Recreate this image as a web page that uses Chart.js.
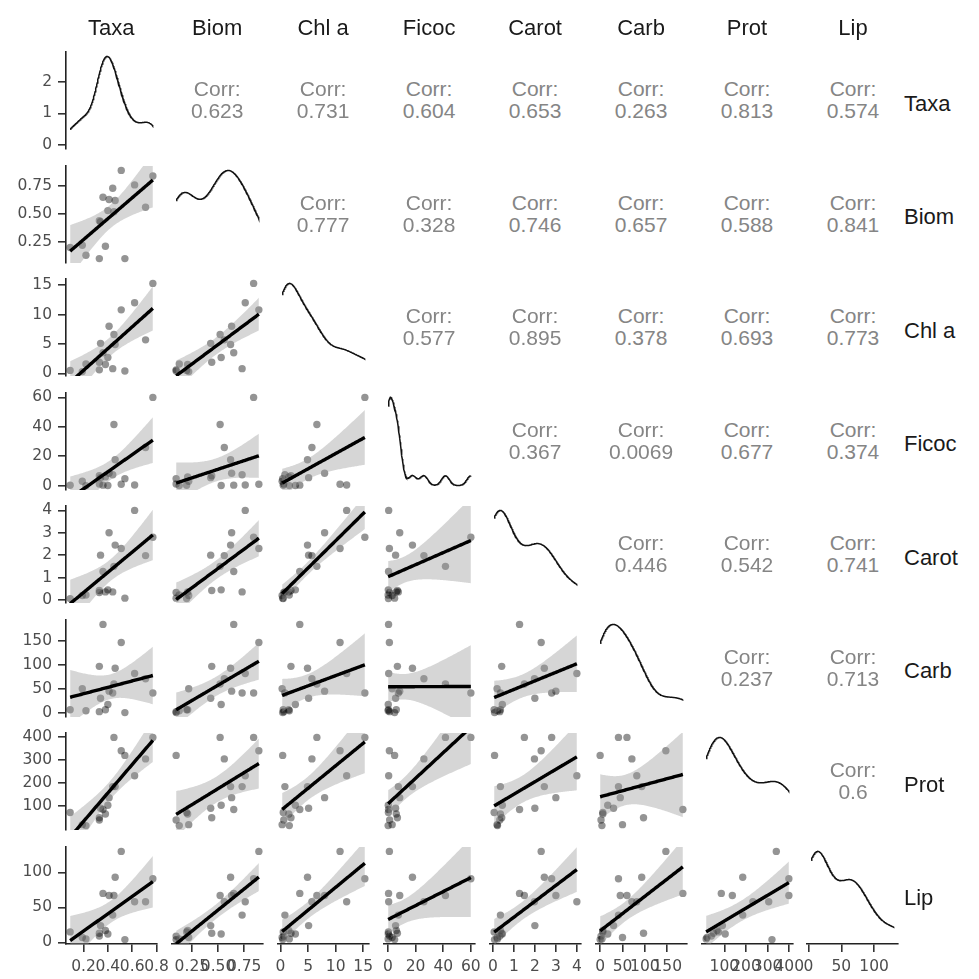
<!DOCTYPE html>
<html>
<head>
<meta charset="utf-8">
<script src="https://cdn.jsdelivr.net/npm/chart.js@4.4.1/dist/chart.umd.min.js"></script>
<style>
  html, body { margin: 0; padding: 0; background: #ffffff; }
  #wrap { position: relative; width: 979px; height: 979px; overflow: hidden;
          font-family: "Liberation Sans", Arial, sans-serif; }
  #wrap canvas { position: absolute; }
  .lab { position: absolute; white-space: nowrap; line-height: 1; }
</style>
</head>
<body>
<div id="wrap"></div>
<script>
// Variable names, in matrix order
const variables = ["Taxa", "Biom", "Chl a", "Ficoc", "Carot", "Carb", "Prot", "Lip"];

// One value per sample for every variable (18 samples)
const taxa  = [0.77, 0.71, 0.62, 0.54, 0.51, 0.46, 0.45, 0.44, 0.41, 0.40, 0.38, 0.36, 0.34, 0.33, 0.33, 0.22, 0.19, 0.09];
const biom  = [0.84, 0.56, 0.76, 0.10, 0.89, 0.62, 0.52, 0.73, 0.63, 0.53, 0.21, 0.65, 0.43, 0.10, 0.44, 0.13, 0.22, 0.20];
const chla  = [15.3, 5.7, 12.0, 0.4, 10.8, 4.9, 6.6, 0.8, 8.0, 2.7, 1.5, 3.5, 5.1, 0.6, 1.9, 1.6, 0.3, 0.5];
const ficoc = [60, 26, 0.5, 4.8, 1.0, 17.7, 41.6, 7.5, 8.5, 0.2, 6.0, 0.4, 5.5, 1.2, 6.8, 0.1, 3.0, 0.3];
const carot = [2.8, 1.98, 4.0, 0.08, 2.3, 2.45, 1.5, 0.36, 3.0, 0.45, 0.36, 1.27, 2.0, 0.33, 0.42, 0.22, 0.2, 0.06];
const carb  = [41, 71, 82, 0, 147, 93, 60, 41, 45, 17, 6, 185, 30, 2, 97, 4, 50, 6];
const prot  = [398, 305, 232, 320, 340, 185, 398, 185, 137, 104, 66, 86, 91, 40, 50, 16, 20, 73];
const lip   = [91, 58, 58, 4, 130, 93, 67, 39, 67, 12, 17, 70, 24, 9, 13, 5, 7, 15];

// Axis tick values and their printed labels
const taxaTicks  = [0.2, 0.4, 0.6, 0.8];       const taxaTickLabels  = ["0.2", "0.4", "0.6", "0.8"];
const biomTicks  = [0.25, 0.5, 0.75];          const biomTickLabels  = ["0.25", "0.50", "0.75"];
const chlaTicks  = [0, 5, 10, 15];             const chlaTickLabels  = ["0", "5", "10", "15"];
const ficocTicks = [0, 20, 40, 60];            const ficocTickLabels = ["0", "20", "40", "60"];
const carotTicks = [0, 1, 2, 3, 4];            const carotTickLabels = ["0", "1", "2", "3", "4"];
const carbTicks  = [0, 50, 100, 150];          const carbTickLabels  = ["0", "50", "100", "150"];
const protTicks  = [100, 200, 300, 400];       const protTickLabels  = ["100", "200", "300", "400"];
const lipTicks   = [0, 50, 100];               const lipTickLabels   = ["0", "50", "100"];
const densityTicks = [0, 1, 2];                const densityTickLabels = ["0", "1", "2"];

// Pearson correlations printed in the upper triangle, row by row
const corrTaxa  = ["0.623", "0.731", "0.604", "0.653", "0.263", "0.813", "0.574"];
const corrBiom  = ["0.777", "0.328", "0.746", "0.657", "0.588", "0.841"];
const corrChla  = ["0.577", "0.895", "0.378", "0.693", "0.773"];
const corrFicoc = ["0.367", "0.0069", "0.677", "0.374"];
const corrCarot = ["0.446", "0.542", "0.741"];
const corrCarb  = ["0.237", "0.713"];
const corrProt  = ["0.6"];

const columns = [taxa, biom, chla, ficoc, carot, carb, prot, lip];
const tickSets = [taxaTicks, biomTicks, chlaTicks, ficocTicks, carotTicks, carbTicks, protTicks, lipTicks];
const tickLabelSets = [taxaTickLabels, biomTickLabels, chlaTickLabels, ficocTickLabels,
                       carotTickLabels, carbTickLabels, protTickLabels, lipTickLabels];
const corrRows = [corrTaxa, corrBiom, corrChla, corrFicoc, corrCarot, corrCarb, corrProt];

// ---- layout of the panel grid ----
const X0 = 65.7, DX = 105.97, PW = 91;   // panel columns
const Y0 = 52, DY = 113.5, PH = 97;      // panel rows
const M = 34;                            // spare canvas margin so labels may spill over
const YAX = 52, XAX = 34;                // axis bands
const TICK_FONT = { family: "'DejaVu Sans', sans-serif", size: 15.5 };
const TICK_COLOR = "#4d4d4d";
const T975 = 2.1199;                     // Student t, 97.5 %, 16 degrees of freedom

const wrap = document.getElementById("wrap");

// ---- small statistics helpers ----
function mean(v) { return v.reduce((a, b) => a + b, 0) / v.length; }
function sd(v) { const m = mean(v); return Math.sqrt(v.reduce((a, b) => a + (b - m) * (b - m), 0) / (v.length - 1)); }
function quantile(v, p) {
  const s = [...v].sort((a, b) => a - b);
  const h = (s.length - 1) * p, lo = Math.floor(h);
  return s[lo] + (h - lo) * ((s[lo + 1] ?? s[lo]) - s[lo]);
}
function bandwidth(v) {
  const lo = Math.min(sd(v), (quantile(v, 0.75) - quantile(v, 0.25)) / 1.34);
  return 0.9 * lo * Math.pow(v.length, -0.2);
}
function density(v, steps) {
  const bw = bandwidth(v), lo = Math.min(...v), hi = Math.max(...v), out = [];
  for (let k = 0; k < steps; k++) {
    const x = lo + (hi - lo) * k / (steps - 1);
    let s = 0;
    for (const d of v) { const z = (x - d) / bw; s += Math.exp(-0.5 * z * z); }
    out.push({ x, y: s / (v.length * bw * Math.sqrt(2 * Math.PI)) });
  }
  return out;
}
function linearFit(xs, ys, steps) {
  const n = xs.length, mx = mean(xs), my = mean(ys);
  let sxx = 0, sxy = 0;
  for (let i = 0; i < n; i++) { sxx += (xs[i] - mx) ** 2; sxy += (xs[i] - mx) * (ys[i] - my); }
  const b = sxy / sxx, a = my - b * mx;
  let rss = 0;
  for (let i = 0; i < n; i++) rss += (ys[i] - a - b * xs[i]) ** 2;
  const s = Math.sqrt(rss / (n - 2));
  const lo = Math.min(...xs), hi = Math.max(...xs);
  const fit = [], upper = [], lower = [];
  for (let k = 0; k < steps; k++) {
    const x = lo + (hi - lo) * k / (steps - 1);
    const y = a + b * x;
    const se = s * Math.sqrt(1 / n + (x - mx) ** 2 / sxx);
    fit.push({ x, y });
    upper.push({ x, y: y + T975 * se });
    lower.push({ x, y: y - T975 * se });
  }
  return { fit, upper, lower };
}
function expanded(v) {
  const lo = Math.min(...v), hi = Math.max(...v), pad = (hi - lo) * 0.05;
  return [lo - pad, hi + pad];
}

// ---- axis factory ----
function axis(range, show, ticks, labels, isX) {
  const lookup = new Map(ticks.map((t, i) => [t, labels[i]]));
  return {
    type: "linear",
    min: range[0], max: range[1],
    display: show,
    position: isX ? "bottom" : "left",
    afterBuildTicks: s => { s.ticks = ticks.map(t => ({ value: t })); },
    afterFit: s => {
      if (show) { if (isX) s.height = XAX; else s.width = YAX; }
      else { s.width = isX ? s.width : 0; s.height = isX ? 0 : s.height; }
      s.paddingLeft = 0; s.paddingRight = 0; s.paddingTop = 0; s.paddingBottom = 0;
    },
    ticks: {
      autoSkip: false, maxRotation: 0, minRotation: 0,
      padding: isX ? 6 : 6, font: TICK_FONT, color: TICK_COLOR,
      callback: v => lookup.has(v) ? lookup.get(v) : ""
    },
    grid: { display: true, drawOnChartArea: false, drawTicks: true,
            tickLength: 8, tickWidth: 1.6, color: "#333333", lineWidth: 1.6 },
    border: { display: true, color: "#222222", width: 1.6 }
  };
}

function makeCanvas(i, j) {
  const left = X0 + j * DX - M - (j === 0 ? YAX : 0);
  const top = Y0 + i * DY - M;
  const w = PW + 2 * M + (j === 0 ? YAX : 0);
  const h = PH + 2 * M + (i === 7 ? XAX : 0);
  const c = document.createElement("canvas");
  c.width = Math.round(w); c.height = Math.round(h);
  c.style.left = left + "px"; c.style.top = top + "px";
  c.style.width = Math.round(w) + "px"; c.style.height = Math.round(h) + "px";
  wrap.appendChild(c);
  return c;
}

const baseOptions = {
  responsive: false, animation: false, devicePixelRatio: 1, events: [],
  layout: { padding: M },
  plugins: { legend: { display: false }, tooltip: { enabled: false } }
};

// ---- lower triangle: scatter + linear fit with 95% band; diagonal: density ----
for (let i = 0; i < 8; i++) {
  for (let j = 0; j <= i; j++) {
    const xs = columns[j];
    const xRange = expanded(xs);
    const xAxis = axis(xRange, i === 7, tickSets[j], tickLabelSets[j], true);
    let datasets, yAxis;
    if (i === j) {
      const dens = density(xs, 200);
      const peak = Math.max(...dens.map(d => d.y));
      yAxis = axis([-0.05 * peak, 1.05 * peak], j === 0, densityTicks, densityTickLabels, false);
      datasets = [{
        type: "line", data: dens, parsing: false,
        borderColor: "#111111", borderWidth: 1.5, pointRadius: 0, tension: 0, fill: false, clip: 0
      }];
    } else {
      const ys = columns[i];
      const yRange = expanded(ys);
      yAxis = axis(yRange, j === 0, tickSets[i], tickLabelSets[i], false);
      const lm = linearFit(xs, ys, 80);
      const pts = xs.map((x, k) => ({ x, y: ys[k] }));
      datasets = [
        { type: "line", data: lm.fit, borderColor: "#000000", borderWidth: 3.4,
          pointRadius: 0, tension: 0, fill: false, clip: 0 },
        { type: "line", data: lm.upper, borderWidth: 0, borderColor: "rgba(0,0,0,0)",
          pointRadius: 0, tension: 0, fill: "+1", backgroundColor: "rgba(153,153,153,0.4)", clip: 0 },
        { type: "line", data: lm.lower, borderWidth: 0, borderColor: "rgba(0,0,0,0)",
          pointRadius: 0, tension: 0, fill: false, clip: 0 },
        { type: "scatter", data: pts, pointRadius: 3.7, borderWidth: 0,
          backgroundColor: "rgba(0,0,0,0.42)" }
      ];
    }
    new Chart(makeCanvas(i, j), {
      type: "scatter",
      data: { datasets },
      options: { ...baseOptions, scales: { x: xAxis, y: yAxis } }
    });
  }
}

// ---- upper triangle: correlation text ----
function addLabel(text, cx, cy, size, color, align) {
  const d = document.createElement("div");
  d.className = "lab";
  d.textContent = text;
  d.style.fontSize = size + "px";
  d.style.color = color;
  d.style.top = (cy - size * 0.5) + "px";
  if (align === "left") d.style.left = cx + "px";
  else { d.style.left = cx + "px"; d.style.transform = "translateX(-50%)"; }
  wrap.appendChild(d);
}
corrRows.forEach((row, i) => {
  row.forEach((val, k) => {
    const j = i + 1 + k;
    const cx = X0 + j * DX + PW / 2;
    const cy = Y0 + i * DY + PH / 2;
    addLabel("Corr:", cx, cy - 12, 21, "#858585", "center");
    addLabel(val, cx, cy + 10, 21, "#858585", "center");
  });
});

// ---- strip labels: top and right ----
variables.forEach((name, j) => {
  addLabel(name, X0 + j * DX + PW / 2, 28, 22, "#1a1a1a", "center");
  addLabel(name, 904, Y0 + j * DY + PH / 2 + 3, 22, "#1a1a1a", "left");
});
</script>
</body>
</html>
